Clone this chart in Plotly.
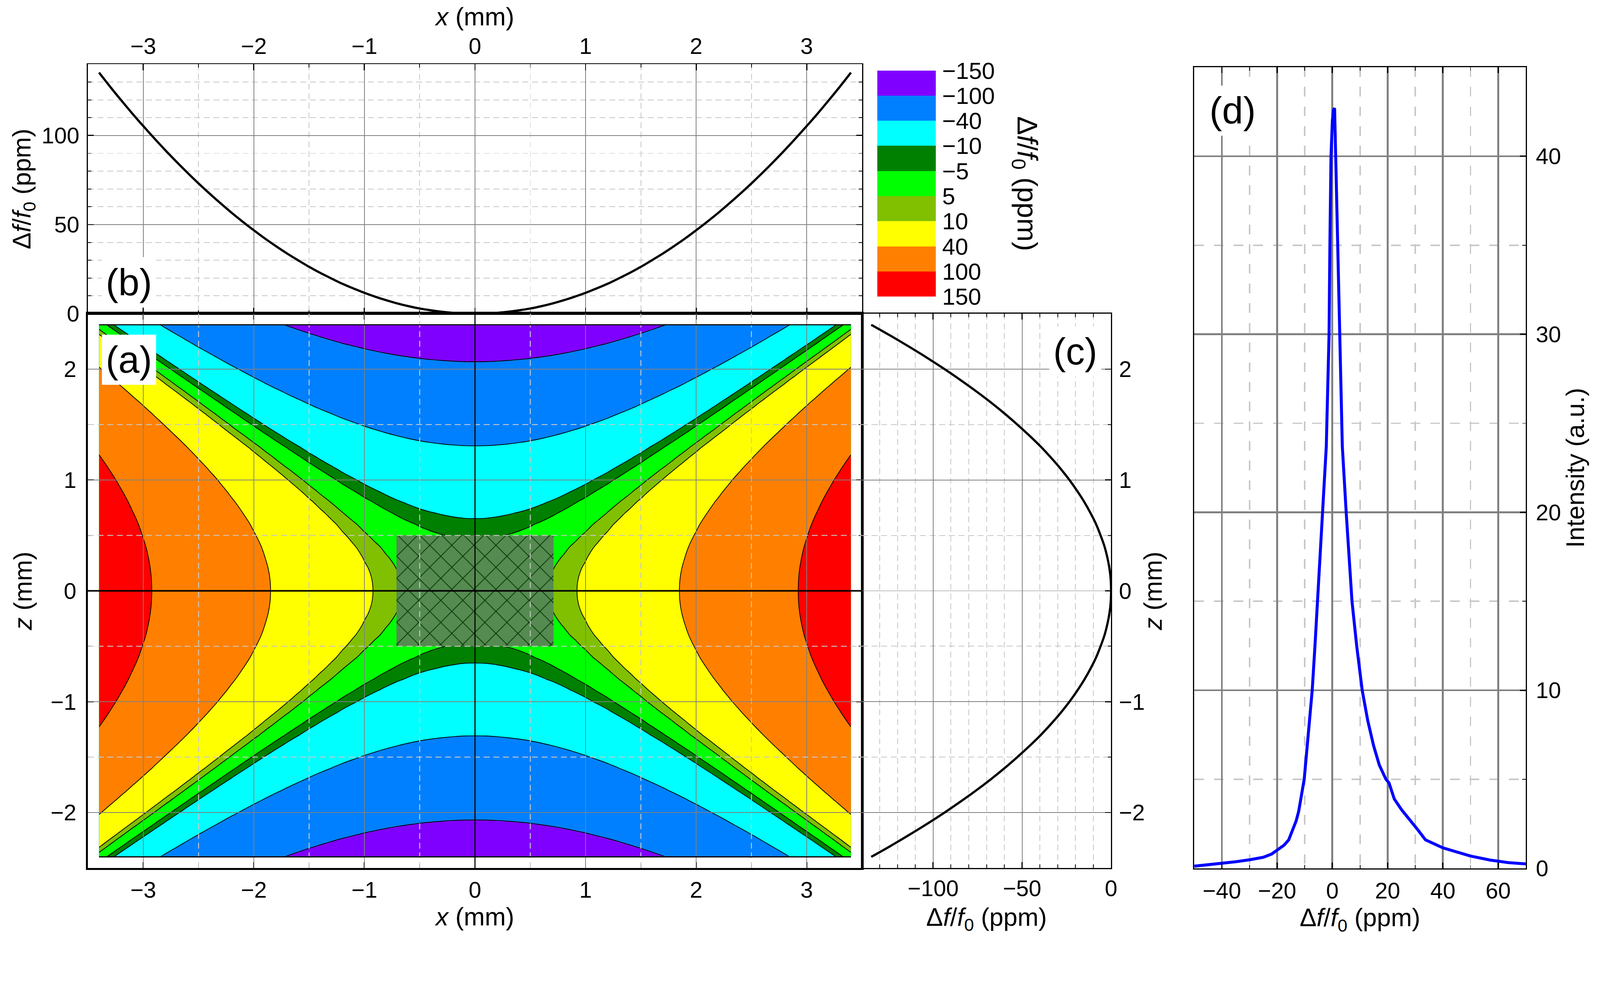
import numpy as np
import plotly.graph_objects as go

# ---- data ----
# panel (b): frequency shift along x at z = 0
x_mm = [-3.4, -3.3, -3.2, -3.1, -3.0, -2.9, -2.8, -2.7, -2.6, -2.5, -2.4, -2.3,
        -2.2, -2.1, -2.0, -1.9, -1.8, -1.7, -1.6, -1.5, -1.4, -1.3, -1.2, -1.1,
        -1.0, -0.9, -0.8, -0.7, -0.6, -0.5, -0.4, -0.3, -0.2, -0.1, 0.0, 0.1,
        0.2, 0.3, 0.4, 0.5, 0.6, 0.7, 0.8, 0.9, 1.0, 1.1, 1.2, 1.3, 1.4, 1.5,
        1.6, 1.7, 1.8, 1.9, 2.0, 2.1, 2.2, 2.3, 2.4, 2.5, 2.6, 2.7, 2.8, 2.9,
        3.0, 3.1, 3.2, 3.3, 3.4]
df_x = [135.3, 127.4, 119.8, 112.4, 105.3, 98.4, 91.7, 85.3, 79.1, 73.1, 67.4,
        61.9, 56.6, 51.6, 46.8, 42.2, 37.9, 33.8, 30.0, 26.3, 22.9, 19.8, 16.8,
        14.2, 11.7, 9.5, 7.5, 5.7, 4.2, 2.9, 1.9, 1.1, 0.5, 0.1, 0.0, 0.1, 0.5,
        1.1, 1.9, 2.9, 4.2, 5.7, 7.5, 9.5, 11.7, 14.2, 16.8, 19.8, 22.9, 26.3,
        30.0, 33.8, 37.9, 42.2, 46.8, 51.6, 56.6, 61.9, 67.4, 73.1, 79.1, 85.3,
        91.7, 98.4, 105.3, 112.4, 119.8, 127.4, 135.3]

# panel (c): frequency shift along z at x = 0
z_mm = [-2.4, -2.3, -2.2, -2.1, -2.0, -1.9, -1.8, -1.7, -1.6, -1.5, -1.4, -1.3,
        -1.2, -1.1, -1.0, -0.9, -0.8, -0.7, -0.6, -0.5, -0.4, -0.3, -0.2, -0.1,
        0.0, 0.1, 0.2, 0.3, 0.4, 0.5, 0.6, 0.7, 0.8, 0.9, 1.0, 1.1, 1.2, 1.3,
        1.4, 1.5, 1.6, 1.7, 1.8, 1.9, 2.0, 2.1, 2.2, 2.3, 2.4]
df_z = [-134.8, -123.8, -113.3, -103.2, -93.6, -84.5, -75.8, -67.6, -59.9,
        -52.7, -45.9, -39.5, -33.7, -28.3, -23.4, -19.0, -15.0, -11.5, -8.4,
        -5.9, -3.7, -2.1, -0.9, -0.2, 0.0, -0.2, -0.9, -2.1, -3.7, -5.9, -8.4,
        -11.5, -15.0, -19.0, -23.4, -28.3, -33.7, -39.5, -45.9, -52.7, -59.9,
        -67.6, -75.8, -84.5, -93.6, -103.2, -113.3, -123.8, -134.8]

# contour levels (ppm) and band colours between them
levels = [-150, -100, -40, -10, -5, 5, 10, 40, 100, 150]
band_colors = ["#8000FF", "#0080FF", "#00FFFF", "#008000", "#00FF00",
               "#80C000", "#FFFF00", "#FF8000", "#FF0000"]

# hatched sample region (mm)
sample_x = [-0.71, 0.71]
sample_z = [-0.5, 0.5]

# panel (d): measured line shape
spec_shift = [-50, -45, -40, -35, -30, -25, -22, -20, -17.5, -15.8, -14.5, -13.1,
              -12.2, -11.4, -10.2, -9.5, -8.8, -8.0, -7.3, -6.3, -5.35, -4.5,
              -3.7, -2.9, -2.2, -2.0, -1.5, -1.2, -0.9, -0.5, 0.0, 0.4, 0.8, 1.2,
              1.9, 2.7, 3.4, 3.6, 5.0, 6.0, 7.1, 8.8, 10.8, 12.8, 14.9, 17.0,
              19.4, 20.5, 22.4, 25.0, 28.3, 31.0, 33.7, 37.8, 40.0, 43.3, 50.0,
              56.9, 63.7, 70.0]
spec_int = [0.12, 0.2, 0.27, 0.37, 0.48, 0.62, 0.8, 1.0, 1.3, 1.6, 2.1, 2.67,
            3.2, 3.9, 5.0, 6.2, 7.5, 8.7, 10.0, 12.5, 15.0, 17.5, 20.0, 22.0,
            23.7, 25.0, 28.0, 30.0, 35.0, 40.0, 42.0, 42.6, 42.7, 40.0, 35.0,
            30.0, 25.0, 23.7, 20.0, 17.5, 15.0, 12.5, 10.0, 8.3, 6.9, 5.8, 5.0,
            4.8, 3.9, 3.3, 2.7, 2.15, 1.6, 1.28, 1.15, 1.0, 0.69, 0.47, 0.32,
            0.25]

# ---- geometry helpers (figure pixels -> paper fractions) ----
W, H = 4310, 2542


def fx(px):
    return px / W


def fy(px):
    return 1 - px / H


FONT = "Liberation Sans, Arial, sans-serif"
TICK = 61
TITLE = 68
DF_TITLE = "\u0394<i>f</i>/<i>f</i><sub>0</sub> (ppm)"
CLEAR = "rgba(0,0,0,0)"

# field on the (z, x) grid from the two profiles
field = np.add.outer(np.array(df_z), np.array(df_x))
n_bands = len(band_colors)
colorscale = [[i / (n_bands - 1), c] for i, c in enumerate(band_colors)]

fig = go.Figure()

# uneven levels: one single-level contour per boundary, stacked upwards,
# each painting the region above its level with the next band colour
for k in range(1, n_bands):
    low = band_colors[0] if k == 1 else CLEAR
    fig.add_trace(go.Contour(
        x=x_mm, y=z_mm, z=field, autocontour=False,
        contours=dict(start=levels[k], end=levels[k], size=1,
                      coloring="fill", showlines=True),
        colorscale=[[0, low], [1, band_colors[k]]],
        line=dict(color="black", width=2, smoothing=1),
        showscale=False, hoverinfo="skip", xaxis="x", yaxis="y",
    ))

fig.add_trace(go.Scatter(
    x=[sample_x[0], sample_x[1], sample_x[1], sample_x[0], sample_x[0]],
    y=[sample_z[0], sample_z[0], sample_z[1], sample_z[1], sample_z[0]],
    mode="lines", fill="toself", line=dict(width=0),
    fillcolor="#558B50",
    fillpattern=dict(shape="x", size=42, solidity=0.1, fgcolor="#0B3A0B",
                     bgcolor="#558B50", fgopacity=1),
    showlegend=False, hoverinfo="skip", xaxis="x", yaxis="y",
))

fig.add_trace(go.Scatter(x=x_mm, y=df_x, mode="lines",
                         line=dict(color="black", width=6, shape="spline"),
                         showlegend=False, xaxis="x2", yaxis="y2"))

fig.add_trace(go.Scatter(x=df_z, y=z_mm, mode="lines",
                         line=dict(color="black", width=6, shape="spline"),
                         showlegend=False, xaxis="x3", yaxis="y3"))

fig.add_trace(go.Scatter(x=spec_shift, y=spec_int, mode="lines",
                         line=dict(color="#0000FF", width=8),
                         showlegend=False, xaxis="x4", yaxis="y4"))

# discrete colour key
fig.add_trace(go.Heatmap(
    x=[0], y=[i + 0.5 for i in range(n_bands)], z=[[i] for i in range(n_bands)],
    colorscale=colorscale, zmin=0, zmax=n_bands - 1, showscale=False,
    hoverinfo="skip", xaxis="x5", yaxis="y5",
))


def axis(**kw):
    base = dict(
        showline=True, linecolor="black", linewidth=3, ticks="inside",
        tickcolor="black", ticklen=16, tickwidth=3,
        tickfont=dict(size=TICK, color="black"),
        showgrid=True, gridcolor="#808080", gridwidth=2, zeroline=False,
        automargin=False, title_font=dict(size=TITLE, color="black"),
    )
    base.update(kw)
    return base


def minor(dtick, grid=True, width=2, dash="16px,10px"):
    return dict(dtick=dtick, ticks="inside", ticklen=9, tickwidth=2,
                tickcolor="black", showgrid=grid, gridcolor="#C8C8C8",
                gridwidth=width, griddash=dash)


x_a = [fx(237), fx(2322)]
y_a = [fy(2338), fy(845)]

layout_axes = dict(
    xaxis=axis(domain=x_a, anchor="y", range=[-3.5, 3.5], dtick=1,
               showgrid=False, linewidth=5, mirror="allticks",
               minor=minor(0.5, grid=False), ticklabelstandoff=2,
               title=dict(text="<i>x</i> (mm)", standoff=6)),
    yaxis=axis(domain=y_a, anchor="x", range=[-2.5, 2.5], dtick=1,
               showgrid=False, linewidth=5, mirror="allticks",
               minor=minor(0.5, grid=False), ticklabelstandoff=14,
               title=dict(text="<i>z</i> (mm)", standoff=30)),
    xaxis2=axis(domain=x_a, anchor="y2", side="top", range=[-3.5, 3.5],
                dtick=1, mirror="allticks", minor=minor(0.5),
                ticklabelstandoff=0, title=dict(text="<i>x</i> (mm)", standoff=0)),
    yaxis2=axis(domain=[fy(845), fy(173)], anchor="x2", range=[0, 140],
                dtick=50, mirror="allticks", minor=minor(10),
                ticklabelstandoff=8, title=dict(text=DF_TITLE, standoff=8)),
    xaxis3=axis(domain=[fx(2322), fx(2993)], anchor="y3", range=[-140, 0],
                dtick=50, mirror="allticks", minor=minor(10),
                ticklabelstandoff=0, title=dict(text=DF_TITLE, standoff=20)),
    yaxis3=axis(domain=y_a, anchor="x3", side="right", range=[-2.5, 2.5],
                dtick=1, mirror=True, minor=minor(0.5), ticklabelstandoff=6,
                title=dict(text="<i>z</i> (mm)", standoff=0)),
    xaxis4=axis(domain=[fx(3217), fx(4110)], anchor="y4", range=[-50, 70],
                dtick=20, mirror="allticks", gridwidth=5,
                minor=minor(10, width=4, dash="26px,27px"),
                ticklabelstandoff=5, title=dict(text=DF_TITLE, standoff=10)),
    yaxis4=axis(domain=[fy(2339), fy(181)], anchor="x4", side="right",
                range=[0, 45], dtick=10, mirror=True, gridwidth=5,
                minor=minor(5, width=4, dash="26px,27px"),
                ticklabelstandoff=12,
                title=dict(text="Intensity (a.u.)", standoff=16)),
    xaxis5=dict(domain=[fx(2363), fx(2521)], anchor="y5", range=[-0.5, 0.5],
                visible=False),
    yaxis5=dict(domain=[fy(799), fy(190)], anchor="x5", side="right",
                range=[n_bands, 0], tickvals=list(range(len(levels))),
                ticktext=[str(v).replace("-", "\u2212") for v in levels],
                showline=False, showgrid=False, zeroline=False, ticks="",
                ticklabelstandoff=16, tickfont=dict(size=63, color="black"),
                automargin=False),
)

# panel (a) grid drawn above the filled contours
shapes = []
grid_major = dict(color="#808080", width=2)
grid_minor = dict(color="#C8C8C8", width=2.5, dash="16px,10px")
for v in [-3, -2, -1, 1, 2, 3]:
    shapes.append(dict(type="line", xref="x", yref="y domain", x0=v, x1=v,
                       y0=0, y1=1, line=grid_major, layer="above"))
for v in [-2.5, -1.5, -0.5, 0.5, 1.5, 2.5]:
    shapes.append(dict(type="line", xref="x", yref="y domain", x0=v, x1=v,
                       y0=0, y1=1, line=grid_minor, layer="above"))
for v in [-2, -1, 1, 2]:
    shapes.append(dict(type="line", xref="x domain", yref="y", x0=0, x1=1,
                       y0=v, y1=v, line=grid_major, layer="above"))
for v in [-1.5, -0.5, 0.5, 1.5]:
    shapes.append(dict(type="line", xref="x domain", yref="y", x0=0, x1=1,
                       y0=v, y1=v, line=grid_minor, layer="above"))
shapes.append(dict(type="line", xref="x", yref="y domain", x0=0, x1=0, y0=0, y1=1,
                   line=dict(color="black", width=3), layer="above"))
shapes.append(dict(type="line", xref="x domain", yref="y", x0=0, x1=1, y0=0, y1=0,
                   line=dict(color="black", width=4), layer="above"))
for zv in [min(z_mm), max(z_mm)]:
    shapes.append(dict(type="line", xref="x", yref="y", x0=min(x_mm), x1=max(x_mm),
                       y0=zv, y1=zv, line=dict(color="black", width=3), layer="above"))


def panel_label(text, px, py):
    return dict(text=text, xref="paper", yref="paper", x=fx(px), y=fy(py),
                xanchor="center", yanchor="middle", showarrow=False,
                font=dict(size=102, color="black"), bgcolor="white", borderpad=10)


annotations = [
    panel_label("(a)", 347, 969),
    panel_label("(b)", 347, 760),
    panel_label("(c)", 2896, 947),
    panel_label("(d)", 3320, 298),
    dict(text=DF_TITLE, xref="paper", yref="paper", x=fx(2762), y=fy(494),
         xanchor="center", yanchor="middle", showarrow=False, textangle=90,
         font=dict(size=76, color="black")),
]

fig.update_layout(
    width=W, height=H,
    margin=dict(l=0, r=0, t=0, b=0),
    paper_bgcolor="white", plot_bgcolor="white",
    font=dict(family=FONT, color="black"),
    showlegend=False,
    shapes=shapes, annotations=annotations,
    **layout_axes,
)

# fit the fixed-size figure into the browser viewport
fit_js = (
    "document.body.style.margin='0px';"
    "var s=Math.min(window.innerWidth/%d, window.innerHeight/%d);"
    "if(s<1){document.body.style.zoom=s;}" % (W, H)
)
fig.write_html("out.html", config={"displayModeBar": False}, post_script=fit_js)
